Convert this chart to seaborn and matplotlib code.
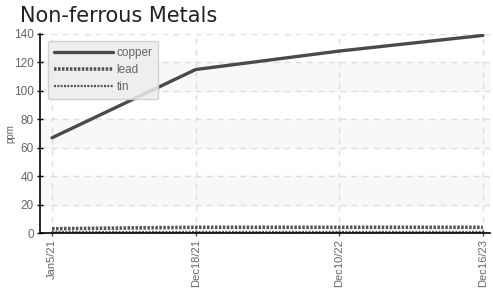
import matplotlib
matplotlib.use("Agg")
import matplotlib.pyplot as plt
import seaborn as sns
import pandas as pd

dates = ["Jan5/21", "Dec18/21", "Dec10/22", "Dec16/23"]
copper = [67, 115, 128, 139]
lead = [3, 4, 4, 4]
tin = [1, 1, 1, 1]

sns.set_theme(style="white")
plt.rcParams['font.family'] = ['Liberation Sans', 'DejaVu Sans']

fig = plt.figure(figsize=(4.93, 2.96), dpi=100)
ax = fig.add_axes([40 / 493, 1 - 233 / 296, 450 / 493, 199 / 296])

x = list(range(len(dates)))
df = pd.DataFrame({"x": x, "copper": copper, "lead": lead, "tin": tin})

# alternating background bands
for lo in (20, 60, 100):
    ax.axhspan(lo, lo + 20, color="#f8f8f8", zorder=0)

sns.lineplot(data=df, x="x", y="copper", ax=ax, color="#4a4a4a", lw=2.4, label="copper")
sns.lineplot(data=df, x="x", y="lead", ax=ax, color="#555555", lw=2.6,
             linestyle=(0, (0.7, 0.4)), label="lead")
sns.lineplot(data=df, x="x", y="tin", ax=ax, color="#555555", lw=1.6,
             linestyle=(0, (0.9, 0.6)), label="tin")

ax.set_xlim(-0.084, 3.05)
ax.set_ylim(0, 140)
ax.set_xticks(x)
ax.set_xticklabels(dates, rotation=90, color="#666666", fontsize=8)
ax.set_yticks(range(0, 141, 20))
ax.tick_params(axis="y", labelcolor="#666666", labelsize=8.5, direction="inout",
               length=5, width=1, color="black", left=True, pad=2)
ax.tick_params(axis="x", direction="inout", length=5, width=1, color="#444444",
               bottom=True, pad=2)
ax.grid(True, color="#dddddd", linestyle=(0, (4, 4)), lw=1)
ax.set_axisbelow(True)
for s in ("top", "right"):
    ax.spines[s].set_visible(False)
ax.spines["left"].set_color("black")
ax.spines["bottom"].set_color("black")
ax.spines["left"].set_linewidth(1.2)
ax.spines["bottom"].set_linewidth(1.2)

ax.set_xlabel("")
ax.set_ylabel("ppm", color="#666666", fontsize=7)
ax.yaxis.set_label_coords(-25 / 450, 0.5)

leg = ax.legend(loc="upper left", bbox_to_anchor=(0.018, 0.965), frameon=True,
                fontsize=8.5, handlelength=5, handletextpad=0.3, labelspacing=0.45,
                borderpad=0.5, borderaxespad=0, fancybox=True, framealpha=0.85)
leg.get_frame().set_facecolor("#ededed")
leg.get_frame().set_edgecolor("#cccccc")
for t in leg.get_texts():
    t.set_color("#666666")

fig.text(20 / 493, 1 - 16 / 296, "Non-ferrous Metals", fontsize=15,
         color="#222222", va="center", ha="left", family=["DejaVu Sans"])

fig.savefig("out.png", dpi=100)
